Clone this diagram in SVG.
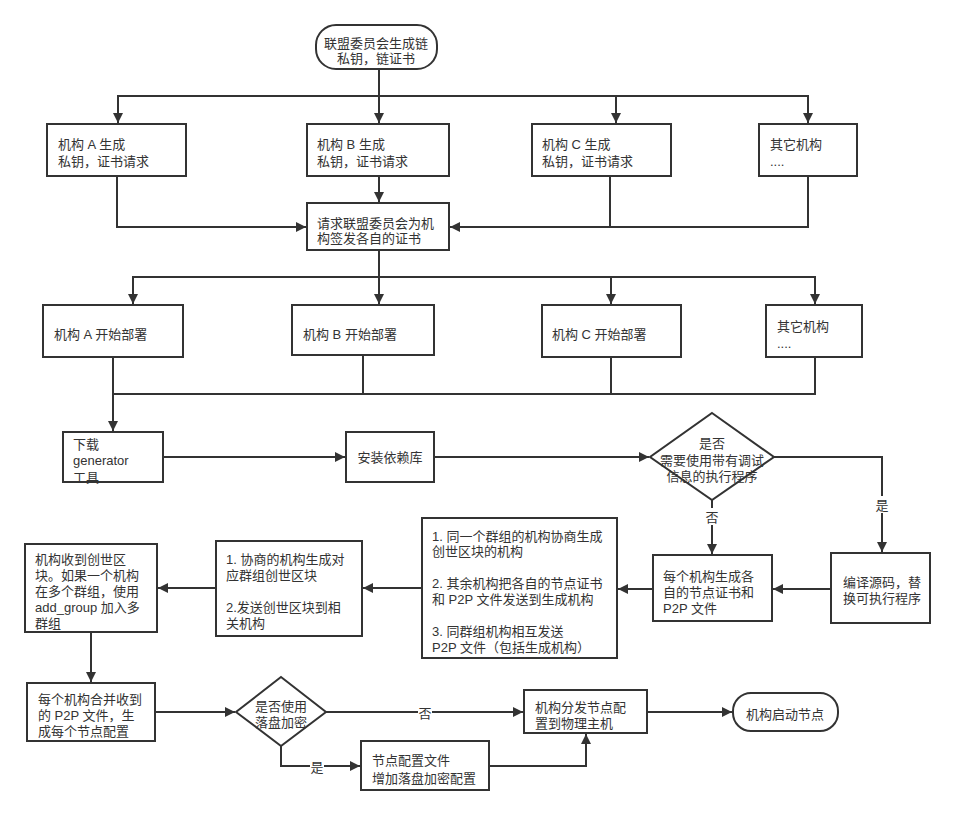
<svg xmlns="http://www.w3.org/2000/svg" width="956" height="815" viewBox="0 0 956 815">
<defs>
<style>
.n{fill:#fff;stroke:#333;stroke-width:2}
.t{font-family:"Liberation Sans","Noto Sans CJK SC",sans-serif;font-size:13px;fill:#333}
.c{text-anchor:middle}
.e{fill:none;stroke:#333;stroke-width:2}
.lb{fill:#fff}
</style>
<marker id="a" markerWidth="11" markerHeight="11" refX="10" refY="5" orient="auto" markerUnits="userSpaceOnUse">
<path d="M0,0 L10,5 L0,10 z" fill="#333"/>
</marker>
</defs>
<rect width="956" height="815" fill="#fff"/>
<g id="connectors">
<path class="e" d="M379,69 V123" marker-end="url(#a)"/>
<path class="e" d="M379,96 H118 V123" marker-end="url(#a)"/>
<path class="e" d="M379,96 H616 V123" marker-end="url(#a)"/>
<path class="e" d="M616,96 H808 V123" marker-end="url(#a)"/>
<path class="e" d="M379,176 V202" marker-end="url(#a)"/>
<path class="e" d="M117,176 V227 H306" marker-end="url(#a)"/>
<path class="e" d="M610,176 V227 H450" marker-end="url(#a)"/>
<path class="e" d="M808,176 V227 H610"/>
<path class="e" d="M379,250 V304" marker-end="url(#a)"/>
<path class="e" d="M379,277 H133 V304" marker-end="url(#a)"/>
<path class="e" d="M379,277 H611 V304" marker-end="url(#a)"/>
<path class="e" d="M611,277 H815 V304" marker-end="url(#a)"/>
<path class="e" d="M113,357 V431" marker-end="url(#a)"/>
<path class="e" d="M363,355 V394 H113"/>
<path class="e" d="M611,357 V394 H363"/>
<path class="e" d="M815,357 V394 H611"/>
<path class="e" d="M163,457 H345" marker-end="url(#a)"/>
<path class="e" d="M434,457 H649" marker-end="url(#a)"/>
<path class="e" d="M774,457 H882 V552" marker-end="url(#a)"/>
<path class="e" d="M712,500 V554" marker-end="url(#a)"/>
<path class="e" d="M831,589 H773" marker-end="url(#a)"/>
<path class="e" d="M653,589 H618" marker-end="url(#a)"/>
<path class="e" d="M422,588 H363" marker-end="url(#a)"/>
<path class="e" d="M216,588 H158" marker-end="url(#a)"/>
<path class="e" d="M91,632 V682" marker-end="url(#a)"/>
<path class="e" d="M155,712 H235" marker-end="url(#a)"/>
<path class="e" d="M326,712 H523" marker-end="url(#a)"/>
<path class="e" d="M281,746 V766 H360" marker-end="url(#a)"/>
<path class="e" d="M489,766 H586 V734" marker-end="url(#a)"/>
<path class="e" d="M647,712 H732" marker-end="url(#a)"/>
<rect class="lb" x="875" y="496" width="14" height="17"/>
<text class="t c" x="882" y="510">是</text>
<rect class="lb" x="705" y="508" width="14" height="17"/>
<text class="t c" x="712" y="522">否</text>
<rect class="lb" x="418" y="704" width="14" height="17"/>
<text class="t c" x="425" y="718">否</text>
<rect class="lb" x="310" y="758" width="14" height="17"/>
<text class="t c" x="317" y="772">是</text>
</g>
<g id="n0"><rect class="n" x="316" y="25" width="121" height="44" rx="20"/>
<text class="t c" x="376" y="48">联盟委员会生成链</text><text class="t c" x="376" y="63">私钥，链证书</text></g>
<g id="n1"><rect class="n" x="47" y="124" width="139" height="52"/>
<text class="t" x="58" y="149">机构 A 生成</text><text class="t" x="58" y="166">私钥，证书请求</text></g>
<g id="n2"><rect class="n" x="307" y="124" width="142" height="52"/>
<text class="t" x="317" y="149">机构 B 生成</text><text class="t" x="317" y="166">私钥，证书请求</text></g>
<g id="n3"><rect class="n" x="532" y="124" width="139" height="52"/>
<text class="t" x="542" y="149">机构 C 生成</text><text class="t" x="542" y="166">私钥，证书请求</text></g>
<g id="n4"><rect class="n" x="759" y="124" width="98" height="52"/>
<text class="t" x="770" y="149">其它机构</text><text class="t" x="770" y="166">....</text></g>
<g id="n5"><rect class="n" x="307" y="203" width="142" height="47"/>
<text class="t" x="317" y="228">请求联盟委员会为机</text><text class="t" x="317" y="243">构签发各自的证书</text></g>
<g id="n6"><rect class="n" x="43" y="305" width="140" height="52"/>
<text class="t" x="54" y="339">机构 A 开始部署</text></g>
<g id="n7"><rect class="n" x="292" y="305" width="142" height="50"/>
<text class="t" x="303" y="339">机构 B 开始部署</text></g>
<g id="n8"><rect class="n" x="542" y="305" width="139" height="52"/>
<text class="t" x="552" y="339">机构 C 开始部署</text></g>
<g id="n9"><rect class="n" x="766" y="305" width="96" height="52"/>
<text class="t" x="777" y="331">其它机构</text><text class="t" x="777" y="348">....</text></g>
<g id="n10"><rect class="n" x="63" y="432" width="100" height="50"/>
<text class="t" x="73" y="449">下载</text><text class="t" x="73" y="465">generator</text><text class="t" x="73" y="482">工具</text></g>
<g id="n11"><rect class="n" x="346" y="432" width="88" height="50"/>
<text class="t c" x="390" y="462">安装依赖库</text></g>
<g id="n12"><path class="n" d="M712,413 L774,457 L712,500 L650,457 Z"/>
<text class="t c" x="712" y="448">是否</text><text class="t c" x="712" y="465">需要使用带有调试</text><text class="t c" x="712" y="481">信息的执行程序</text></g>
<g id="n13"><rect class="n" x="831" y="553" width="99" height="70"/>
<text class="t" x="843" y="587">编译源码，替</text><text class="t" x="843" y="603">换可执行程序</text></g>
<g id="n14"><rect class="n" x="653" y="555" width="119" height="66"/>
<text class="t" x="663" y="581">每个机构生成各</text><text class="t" x="663" y="597">自的节点证书和</text><text class="t" x="663" y="613">P2P 文件</text></g>
<g id="n15"><rect class="n" x="422" y="518" width="195" height="140"/>
<text class="t" x="432" y="541">1. 同一个群组的机构协商生成</text><text class="t" x="432" y="556">创世区块的机构</text>
<text class="t" x="432" y="588">2. 其余机构把各自的节点证书</text><text class="t" x="432" y="604">和 P2P 文件发送到生成机构</text>
<text class="t" x="432" y="636">3. 同群组机构相互发送</text><text class="t" x="432" y="652">P2P 文件（包括生成机构）</text></g>
<g id="n16"><rect class="n" x="216" y="541" width="146" height="95"/>
<text class="t" x="226" y="564">1. 协商的机构生成对</text><text class="t" x="226" y="580">应群组创世区块</text>
<text class="t" x="226" y="612">2.发送创世区块到相</text><text class="t" x="226" y="628">关机构</text></g>
<g id="n17"><rect class="n" x="25" y="544" width="132" height="88"/>
<text class="t" x="35" y="564">机构收到创世区</text><text class="t" x="35" y="580">块。如果一个机构</text><text class="t" x="35" y="596">在多个群组，使用</text><text class="t" x="35" y="612">add_group 加入多</text><text class="t" x="35" y="628">群组</text></g>
<g id="n18"><rect class="n" x="27" y="683" width="128" height="58"/>
<text class="t" x="38" y="704">每个机构合并收到</text><text class="t" x="38" y="720">的 P2P 文件，生</text><text class="t" x="38" y="736">成每个节点配置</text></g>
<g id="n19"><path class="n" d="M281,677 L326,712 L281,746 L236,712 Z"/>
<text class="t c" x="281" y="711">是否使用</text><text class="t c" x="281" y="727">落盘加密</text></g>
<g id="n20"><rect class="n" x="361" y="741" width="128" height="49"/>
<text class="t" x="372" y="765">节点配置文件</text><text class="t" x="372" y="783">增加落盘加密配置</text></g>
<g id="n21"><rect class="n" x="524" y="690" width="123" height="43"/>
<text class="t" x="535" y="712">机构分发节点配</text><text class="t" x="535" y="728">置到物理主机</text></g>
<g id="n22"><rect class="n" x="733" y="693" width="105" height="38" rx="18"/>
<text class="t c" x="785" y="719">机构启动节点</text></g>
</svg>
